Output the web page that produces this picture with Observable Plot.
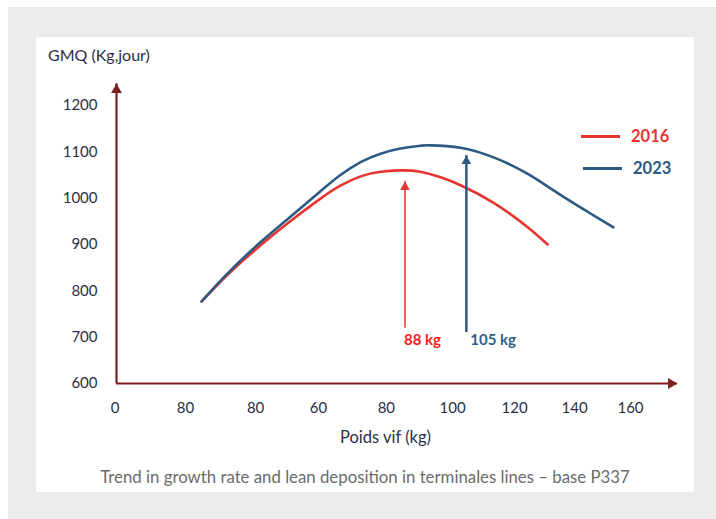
<!DOCTYPE html>
<html>
<head>
<meta charset="utf-8">
<script src="https://cdn.jsdelivr.net/npm/d3@7"></script>
<script src="https://cdn.jsdelivr.net/npm/@observablehq/plot@0.6"></script>
<style>
  html, body { margin: 0; padding: 0; background: #ffffff; }
  #page { position: relative; width: 716px; height: 519px; overflow: hidden; font-family: Lato, "Open Sans", sans-serif; }
  #bg { position: absolute; left: 8px; top: 7px; width: 708px; height: 512px; background: #ececec; }
  #panel { position: absolute; left: 36px; top: 37px; width: 658px; height: 455px; background: #ffffff; }
  #chart { position: absolute; left: 0; top: 0; }
  #ytitle { position: absolute; left: 48px; top: 45px; font-size: 16px; color: #2a2f45; white-space: nowrap; }
  #caption { position: absolute; left: 0; width: 730px; top: 466px; text-align: center; font-size: 16.8px; color: #6b6b6b; white-space: nowrap; }
  .leg { position: absolute; display: flex; align-items: center; font-weight: bold; font-size: 16.5px; white-space: nowrap; }
  .leg span.sw { display: inline-block; width: 39px; height: 3px; margin-right: 11px; }
</style>
</head>
<body>
<div id="page">
  <div id="bg"></div>
  <div id="panel"></div>
  <div id="chart"></div>
  <div id="ytitle"></div>
  <div id="legend"></div>
  <div id="caption"></div>
</div>
<script>
// ---- data ----
const yTitle = "GMQ (Kg,jour)";
const xTitle = "Poids vif (kg)";
const caption = "Trend in growth rate and lean deposition in terminales lines \u2013 base P337";
const seriesNames = ["2016", "2023"];
const seriesColors = ["#e8342f", "#2c5a83"];

// tick labels as printed in the source, and where they sit along the weight axis
const xTickLabels = ["0", "80", "80", "60", "80", "100", "120", "140", "160"];
const xTickPositions = [-0.4, 21.5, 43.3, 62.9, 84.0, 104.6, 123.9, 142.6, 160];
const yTickValues = [600, 700, 800, 900, 1000, 1100, 1200];

const gmq2016 = [[26.5,777],[34.9,837],[45.5,902],[53.5,947],[63.5,999],[69.7,1027],[76.0,1047],[82.2,1057],[88.4,1060],[94.6,1057],[100.9,1045],[107.1,1028],[117.4,990],[127.9,938],[134.2,900]];
const gmq2023 = [[26.5,777],[34.9,840],[45.5,909],[53.5,956],[63.5,1015],[69.7,1050],[76.0,1078],[82.2,1096],[88.4,1107],[94.6,1113],[97.7,1114],[107.1,1109],[117.4,1088],[127.9,1053],[138.2,1007],[148.5,963],[154.7,937]];

const markerX = [89.8, 108.9];
const markerTop = [1036, 1092];
const markerBottom = [719, 710];
const markerLabels = ["88 kg", "105 kg"];
const markerLabelY = 693;

const xAxisEnd = 174.6;
const yAxisTop = 1247;
const yAxisBase = 600;

// ---- build ----
const lines = [
  ...gmq2016.map(([x, y]) => ({series: seriesNames[0], x, y})),
  ...gmq2023.map(([x, y]) => ({series: seriesNames[1], x, y}))
];
const markers = markerX.map((x, i) => ({x, top: markerTop[i], bottom: markerBottom[i], label: markerLabels[i], series: seriesNames[i]}));
const xTicks = xTickPositions.map((x, i) => ({x, label: xTickLabels[i]}));

const axisColor = "#7b1f1f";
const textColor = "#2a2f45";
const color = (s) => seriesColors[seriesNames.indexOf(s)];
const arrowR = 3.6;
const tipOff = (r) => 2 * Math.sqrt(r * r * Math.PI / (3 * Math.sqrt(3)));

const chart = Plot.plot({
  width: 716,
  height: 455,
  marginLeft: 116,
  marginRight: 86,
  marginTop: 105,
  marginBottom: 72,
  style: {fontFamily: "Lato, 'Open Sans', sans-serif", fontSize: "15px", background: "transparent", overflow: "visible"},
  x: {type: "linear", domain: [0, 160], axis: null},
  y: {domain: [600, 1200], axis: null},
  marks: [
    Plot.axisY(yTickValues, {tickSize: 0, tickPadding: 19, tickFormat: d => String(d), fill: textColor, fontSize: 15, label: null}),
    Plot.text(xTicks, {x: "x", text: "label", frameAnchor: "bottom", dy: 29, fill: textColor, fontSize: 15}),
    Plot.text([xTitle], {frameAnchor: "bottom", dx: 12, dy: 59, fill: textColor, fontSize: 16.5}),
    // axes lines with arrowheads
    Plot.ruleX([0], {y1: yAxisBase, y2: yAxisTop, stroke: axisColor, strokeWidth: 2.2}),
    Plot.ruleY([yAxisBase], {x1: 0, x2: xAxisEnd, stroke: axisColor, strokeWidth: 2.2}),
    Plot.dot([[0, yAxisTop]], {x: d => d[0], y: d => d[1], symbol: "triangle", r: arrowR + 0.4, fill: axisColor, stroke: null, dy: tipOff(arrowR + 0.4)}),
    Plot.dot([[xAxisEnd, yAxisBase]], {x: d => d[0], y: d => d[1], symbol: "triangle", r: arrowR + 0.4, fill: axisColor, stroke: null, rotate: 90, dx: -tipOff(arrowR + 0.4)}),
    // curves
    Plot.line(lines, {x: "x", y: "y", z: "series", stroke: d => color(d.series), strokeWidth: 2.6, curve: "natural"}),
    // vertical markers
    Plot.ruleX(markers, {x: "x", y1: "bottom", y2: "top", stroke: d => color(d.series), strokeWidth: d => d.series === seriesNames[0] ? 1.5 : 2.5}),
    Plot.dot(markers, {x: "x", y: "top", symbol: "triangle", r: arrowR, fill: d => color(d.series), stroke: null, dy: tipOff(arrowR)}),
    Plot.text(markers.filter(d => d.series === seriesNames[0]), {x: "x", y: () => markerLabelY, text: "label", textAnchor: "start", dx: -1, fontWeight: "bold", fontSize: 15, fill: "#ff1a1a"}),
    Plot.text(markers.filter(d => d.series === seriesNames[1]), {x: "x", y: () => markerLabelY, text: "label", textAnchor: "start", dx: 4, fontWeight: "bold", fontSize: 15, fill: "#2e5f8a"})
  ]
});
document.getElementById("chart").appendChild(chart);

document.getElementById("ytitle").textContent = yTitle;
document.getElementById("caption").textContent = caption;

const legend = document.getElementById("legend");
const legPos = [[581, 126], [583, 158]];
seriesNames.forEach((s, i) => {
  const d = document.createElement("div");
  d.className = "leg";
  d.style.left = legPos[i][0] + "px";
  d.style.top = legPos[i][1] + "px";
  d.style.color = seriesColors[i];
  d.innerHTML = `<span class="sw" style="background:${seriesColors[i]}"></span>${s}`;
  legend.appendChild(d);
});
</script>
</body>
</html>
